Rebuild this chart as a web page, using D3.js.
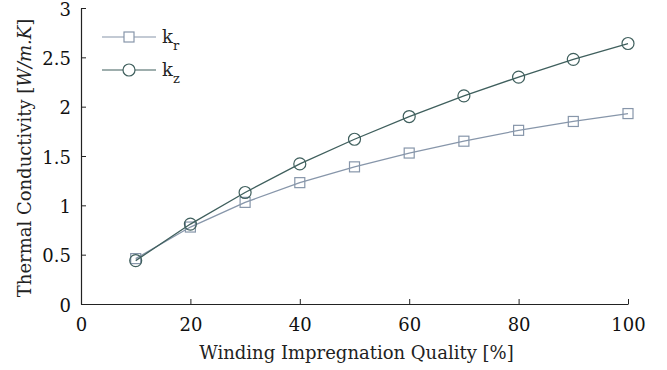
<!DOCTYPE html>
<html>
<head>
<meta charset="utf-8">
<script src="https://cdn.jsdelivr.net/npm/d3@7"></script>
<style>
  body { margin: 0; background: #fff; }
</style>
</head>
<body>
<div id="chart"></div>
<script>
// données
const quality = [10, 20, 30, 40, 50, 60, 70, 80, 90, 100];
const kr = [0.46, 0.78, 1.03, 1.23, 1.39, 1.53, 1.65, 1.76, 1.85, 1.93];
const kz = [0.44, 0.81, 1.13, 1.42, 1.67, 1.90, 2.11, 2.30, 2.48, 2.64];
const xTicks = [0, 20, 40, 60, 80, 100];
const yTicks = [0, 0.5, 1, 1.5, 2, 2.5, 3];

const width = 667;
const height = 370;
const margin = { top: 8, right: 39, bottom: 66, left: 81 };
const font = "DejaVu Serif";

const svg = d3
  .select("#chart")
  .append("svg")
  .attr("width", width)
  .attr("height", height)
  .style("font-family", font);

const x = d3.scaleLinear([0, 100], [margin.left, width - margin.right]);
const y = d3.scaleLinear([0, 3], [height - margin.bottom, margin.top]);

// axe x
svg
  .append("g")
  .attr("transform", `translate(0,${height - margin.bottom})`)
  .call(d3.axisBottom(x).tickValues(xTicks).tickSize(-5).tickSizeOuter(0).tickPadding(14))
  .call((g) => g.attr("font-family", null).attr("font-size", 18))
  .call((g) => g.select(".domain").attr("stroke", "#222").attr("stroke-width", 1.2))
  .call((g) => g.selectAll(".tick line").attr("stroke", "#222"))
  .call((g) => g.selectAll(".tick text").attr("fill", "#111"));

// axe y
svg
  .append("g")
  .attr("transform", `translate(${margin.left},0)`)
  .call(d3.axisLeft(y).tickValues(yTicks).tickFormat(d3.format("~g")).tickSize(-5).tickSizeOuter(0).tickPadding(10))
  .call((g) => g.attr("font-family", null).attr("font-size", 18))
  .call((g) => g.select(".domain").attr("stroke", "#222").attr("stroke-width", 1.2))
  .call((g) => g.selectAll(".tick line").attr("stroke", "#222"))
  .call((g) => g.selectAll(".tick text").attr("fill", "#111").attr("dy", "0.4em"));

svg
  .append("text")
  .attr("x", (margin.left + width - margin.right) / 2 + 2)
  .attr("y", height - 11)
  .attr("text-anchor", "middle")
  .attr("font-size", 18)
  .attr("fill", "#222")
  .text("Winding Impregnation Quality [%]");

const yLabel = svg
  .append("text")
  .attr("transform", `translate(31,${(margin.top + height - margin.bottom) / 2 + 2}) rotate(-90)`)
  .attr("text-anchor", "middle")
  .attr("font-size", 18)
  .attr("fill", "#222");
yLabel.append("tspan").text("Thermal Conductivity [");
yLabel.append("tspan").attr("font-style", "italic").text("W/m.K");
yLabel.append("tspan").text("]");

const series = [
  { name: "r", values: kr, color: "#8796aa", marker: "square" },
  { name: "z", values: kz, color: "#3f5f5d", marker: "circle" },
];

const line = d3
  .line()
  .x((d, i) => x(quality[i]))
  .y((d) => y(d));

series.forEach((s) => {
  svg
    .append("path")
    .attr("fill", "none")
    .attr("stroke", s.color)
    .attr("stroke-width", 1.3)
    .attr("d", line(s.values));

  const m = svg.append("g").selectAll("g").data(s.values).enter();
  if (s.marker === "square") {
    m.append("rect")
      .attr("x", (d, i) => x(quality[i]) - 5)
      .attr("y", (d) => y(d) - 5)
      .attr("width", 10)
      .attr("height", 10)
      .attr("fill", "none")
      .attr("stroke", s.color)
      .attr("stroke-width", 1.2);
  } else {
    m.append("circle")
      .attr("cx", (d, i) => x(quality[i]))
      .attr("cy", (d) => y(d))
      .attr("r", 6)
      .attr("fill", "none")
      .attr("stroke", s.color)
      .attr("stroke-width", 1.2);
  }
});

// légende
const legend = svg.append("g").attr("transform", "translate(102,37)");
series.forEach((s, i) => {
  const g = legend.append("g").attr("transform", `translate(0,${i * 33})`);
  g.append("line")
    .attr("x1", 0)
    .attr("x2", 54)
    .attr("stroke", s.color)
    .attr("stroke-width", 1.2);
  if (s.marker === "square") {
    g.append("rect")
      .attr("x", 22)
      .attr("y", -5)
      .attr("width", 10)
      .attr("height", 10)
      .attr("fill", "#fff")
      .attr("stroke", s.color)
      .attr("stroke-width", 1.2);
  } else {
    g.append("circle")
      .attr("cx", 27)
      .attr("r", 6)
      .attr("fill", "#fff")
      .attr("stroke", s.color)
      .attr("stroke-width", 1.2);
  }
  const t = g.append("text").attr("x", 60).attr("y", 6).attr("font-size", 18).attr("fill", "#222");
  t.append("tspan").text("k");
  t.append("tspan").attr("dy", 7).attr("font-size", 13).text(s.name);
});
</script>
</body>
</html>
